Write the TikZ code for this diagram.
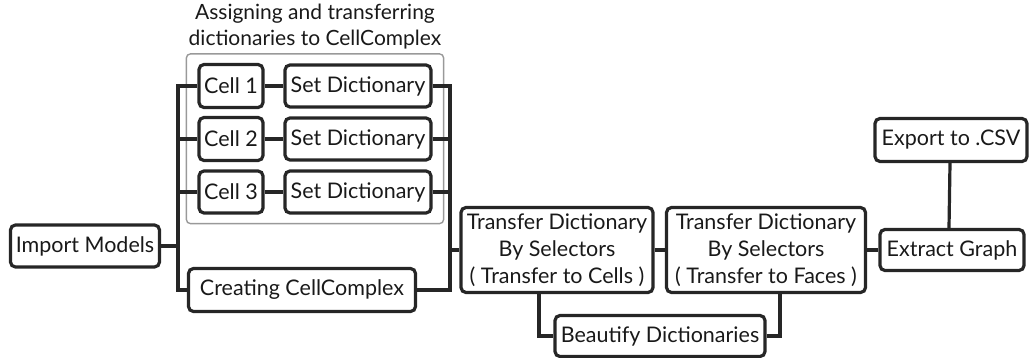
\documentclass[tikz,border=0pt]{standalone}
\usepackage{fontspec}
\setmainfont{Lato}
\usetikzlibrary{fit}
\tikzset{every picture/.style={line width=3.2pt}}

\begin{document}
\begin{tikzpicture}[x=1pt,y=1pt,yscale=-1,xscale=1,
	stepbox/.style={draw=black!85, rounded corners=5pt, align=center, inner sep=0pt, text=black!90, font=\fontsize{21.5}{27}\selectfont},
	link/.style={draw=black!85, line width=3.2pt}]
		\useasboundingbox (0,0) rectangle (1036,358);
		
		% Text Node
		\node[stepbox, minimum width=149, minimum height=42] (imp) at (85,246) {Import Models};
		% Cells and dictionaries
		\node[stepbox, minimum width=64, minimum height=43] (cell1) at (231,86) {Cell 1};
		\node[stepbox, minimum width=64, minimum height=43] (cell2) at (231,139) {Cell 2};
		\node[stepbox, minimum width=64, minimum height=42] (cell3) at (231,192) {Cell 3};
		\node[stepbox, minimum width=146, minimum height=42] (set1) at (358,86) {Set Dictionary};
		\node[stepbox, minimum width=146, minimum height=42] (set2) at (358,139) {Set Dictionary};
		\node[stepbox, minimum width=146, minimum height=42] (set3) at (358,192) {Set Dictionary};
		% Text Node
		\node[stepbox, minimum width=227, minimum height=43] (cplx) at (302,290) {Creating CellComplex};
		% Transfer steps
		\node[stepbox, minimum width=192, minimum height=85] (tr1) at (557,250) {Transfer Dictionary\\By Selectors\\( Transfer to Cells )};
		\node[stepbox, minimum width=199, minimum height=85] (tr2) at (766,250) {Transfer Dictionary\\By Selectors\\( Transfer to Faces )};
		\node[stepbox, minimum width=210, minimum height=41] (beau) at (660,336) {Beautify Dictionaries};
		\node[stepbox, minimum width=144, minimum height=41] (graph) at (952,250) {Extract Graph};
		\node[stepbox, minimum width=152, minimum height=43] (csv) at (951,140) {Export to .CSV};
		
		%Group frame
		\node[draw=black!40, rounded corners=4pt, line width=1.4pt, inner xsep=11, inner ysep=9, fit=(cell1)(set3)] (grp) {};
		% Text Node
		\node[align=center, text=black!90, font=\fontsize{21}{26}\selectfont] (ttl) at (315,27) {Assigning and transferring\\dictionaries to CellComplex};
		
		%Connectors
		\coordinate (busL) at (178,246);
		\coordinate (busR) at (450,250);
		\draw[link] (imp.east) -- (busL);
		\foreach \n in {cell1,cell2,cell3,cplx}
			\draw[link] (busL) |- (\n.west);
		\foreach \i in {1,2,3}
			\draw[link] (cell\i.east) -- (set\i.west);
		\foreach \n in {set1,set2,set3,cplx}
			\draw[link] (\n.east) -| (busR);
		\draw[link] (busR) -- (tr1.west);
		\draw[link] (tr1.east) -- (tr2.west);
		\draw[link] (tr2.east) -- (graph.west);
		\draw[link] ([xshift=-1]csv.south) -- ([xshift=-3]graph.north);
		\draw[link] ([xshift=-18]tr1.south) |- (beau.west);
		\draw[link] (beau.east) -| ([xshift=14]tr2.south);
		
\end{tikzpicture}
\end{document}
